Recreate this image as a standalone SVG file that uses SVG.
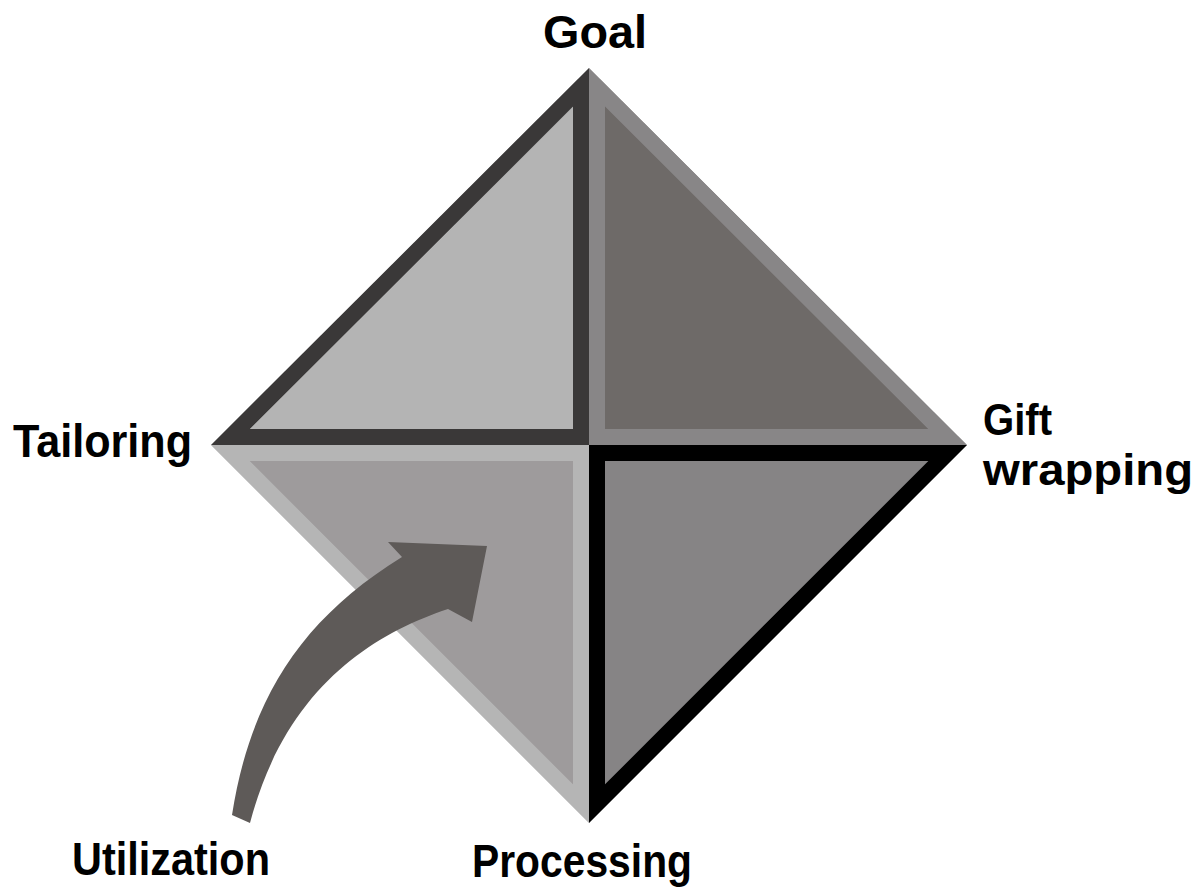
<svg xmlns="http://www.w3.org/2000/svg" width="1198" height="888" viewBox="0 0 1198 888">
  <style>
    .lbl { font-family: "Liberation Sans", Arial, sans-serif; font-weight: bold; font-size: 46px; fill: #000; }
    .sm { font-size: 44px; }
    .q { stroke-width: 32; stroke-linejoin: miter; }
  </style>
  <defs>
    <clipPath id="cTL"><polygon points="589,68 211,445 589,445"/></clipPath>
    <clipPath id="cTR"><polygon points="589,68 967,445 589,445"/></clipPath>
    <clipPath id="cBL"><polygon points="211,445 589,445 589,823"/></clipPath>
    <clipPath id="cBR"><polygon points="589,445 967,445 589,823"/></clipPath>
  </defs>
  <rect width="1198" height="888" fill="#fff"/>

  <g id="quadrant-top-left">
    <polygon class="q" points="589,68 211,445 589,445" fill="#b4b4b4" stroke="#3a3838" clip-path="url(#cTL)"/>
  </g>
  <g id="quadrant-top-right">
    <polygon class="q" points="589,68 967,445 589,445" fill="#6e6a68" stroke="#888687" clip-path="url(#cTR)"/>
  </g>
  <g id="quadrant-bottom-left">
    <polygon class="q" points="211,445 589,445 589,823" fill="#9e9b9c" stroke="#b5b5b5" clip-path="url(#cBL)"/>
  </g>
  <g id="quadrant-bottom-right">
    <polygon class="q" points="589,445 967,445 589,823" fill="#868485" stroke="#000" clip-path="url(#cBR)"/>
  </g>

  <g id="connectors">
    <path id="arrow-utilization" fill="#5e5a58" d="M 232,815 C 250,700 300,620 402,557 L 388,542 L 487,546 L 472,622 L 448,609 C 370,635 285,690 250,823 Z"/>
  </g>

  <g id="label-goal"><text class="lbl" x="543" y="48" textLength="104" lengthAdjust="spacingAndGlyphs">Goal</text></g>
  <g id="label-tailoring"><text class="lbl" x="13" y="457" textLength="179" lengthAdjust="spacingAndGlyphs">Tailoring</text></g>
  <g id="label-gift-wrapping">
    <text class="lbl sm" x="983" y="435" textLength="69" lengthAdjust="spacingAndGlyphs">Gift</text>
    <text class="lbl sm" x="983" y="485" textLength="210" lengthAdjust="spacingAndGlyphs">wrapping</text>
  </g>
  <g id="label-utilization"><text class="lbl" x="72" y="875" textLength="198" lengthAdjust="spacingAndGlyphs">Utilization</text></g>
  <g id="label-processing"><text class="lbl" x="472" y="877" textLength="220" lengthAdjust="spacingAndGlyphs">Processing</text></g>
</svg>
